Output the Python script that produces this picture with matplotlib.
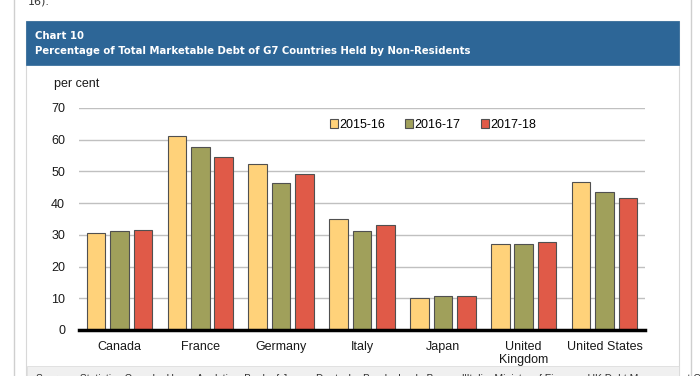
import numpy as np
import matplotlib.pyplot as plt
from matplotlib.patches import Rectangle
from matplotlib.lines import Line2D

# data
countries = ["Canada", "France", "Germany", "Italy", "Japan", "United\nKingdom", "United States"]
years = ["2015-16", "2016-17", "2017-18"]
v2015 = [30.5, 61.2, 52.2, 34.9, 10.2, 27.1, 46.6]
v2016 = [31.1, 57.6, 46.2, 31.3, 10.8, 27.1, 43.5]
v2017 = [31.6, 54.5, 49.3, 33.1, 10.8, 27.9, 41.5]
yticks = [0, 10, 20, 30, 40, 50, 60, 70]

colors = ["#FFD27A", "#A0A05B", "#E05A48"]
W, H = 700, 376

plt.rcParams['font.family'] = ['Liberation Sans', 'DejaVu Sans']

fig = plt.figure(figsize=(W / 100, H / 100), dpi=100)
fig.patch.set_facecolor("white")

def box(x0, y0, x1, y1, **kw):
    # pixel coords, top-left origin
    r = Rectangle((x0 / W, 1 - y1 / H), (x1 - x0) / W, (y1 - y0) / H,
                  transform=fig.transFigure, zorder=-5, **kw)
    fig.add_artist(r)

def vline(x, y0, y1, **kw):
    fig.add_artist(Line2D([x / W, x / W], [1 - y0 / H, 1 - y1 / H],
                          transform=fig.transFigure, zorder=-5, **kw))

# page frame
vline(14.5, 0, 376, color="#CFCFCF", lw=1)
vline(690.5, 0, 376, color="#CFCFCF", lw=1)
box(26, 21, 679, 400, facecolor="white", edgecolor="#D8D8D8", lw=0.8)
box(26, 21, 679, 65, facecolor="#2D6697", edgecolor="#2D6697", lw=0.5)
box(26.5, 366, 678.5, 400, facecolor="#F0F0F0", edgecolor="#D8D8D8", lw=0.5)

fig.text(28 / W, 1 - 1 / H, "16).", fontsize=8, color="#333333", va="center",
         family="DejaVu Sans")
fig.text(35 / W, 1 - 36 / H, "Chart 10", fontsize=7.3, color="white",
         fontweight="bold", va="center", family="DejaVu Sans")
fig.text(35 / W, 1 - 51 / H,
         "Percentage of Total Marketable Debt of G7 Countries Held by Non-Residents",
         fontsize=7.3, color="white", fontweight="bold", va="center", family="DejaVu Sans")
fig.text(36 / W, 1 - 379 / H,
         "Sources: Statistics Canada; Haver Analytics; Bank of Japan; Deutsche Bundesbank; "
         "Banca d'Italia; Ministry of Finance; UK Debt Management Office",
         fontsize=7.5, color="#333333", va="center")

# chart
ax = fig.add_axes([79 / W, 1 - 330 / H, (645 - 79) / W, (330 - 108) / H])
x = np.arange(len(countries))
bw = 0.23
step = 0.29
for k, vals in enumerate([v2015, v2016, v2017]):
    ax.bar(x + (k - 1) * step, vals, bw, color=colors[k], edgecolor="#505050",
           linewidth=0.8, label=years[k], zorder=3)

ax.set_xlim(-0.5, len(countries) - 0.5)
ax.set_ylim(0, 70)
ax.set_yticks(yticks)
ax.yaxis.grid(True, color="#C0C0C0", lw=1)
ax.set_axisbelow(True)
ax.patch.set_alpha(0)
for s in ["left", "right", "top"]:
    ax.spines[s].set_visible(False)
ax.spines["bottom"].set_linewidth(2.5)
ax.spines["bottom"].set_color("black")
ax.spines["bottom"].set_zorder(4)
ax.tick_params(axis="both", length=0, labelsize=9, colors="#1A1A1A")
ax.tick_params(axis="y", pad=10)
ax.tick_params(axis="x", pad=8)
ax.set_xticks(x)
ax.set_xticklabels(countries, linespacing=1.1)
ax.text(-0.045, 1.11, "per cent", transform=ax.transAxes, fontsize=9,
        color="#1A1A1A", ha="left", va="center")

ax.legend(loc="center", bbox_to_anchor=(354 / 566, 1 - (125 - 108) / 222), ncol=3,
          frameon=False, fontsize=9, handlelength=0.65, handleheight=0.65,
          handletextpad=0.1, columnspacing=1.6, borderpad=0)

fig.savefig("out.png", dpi=100)
